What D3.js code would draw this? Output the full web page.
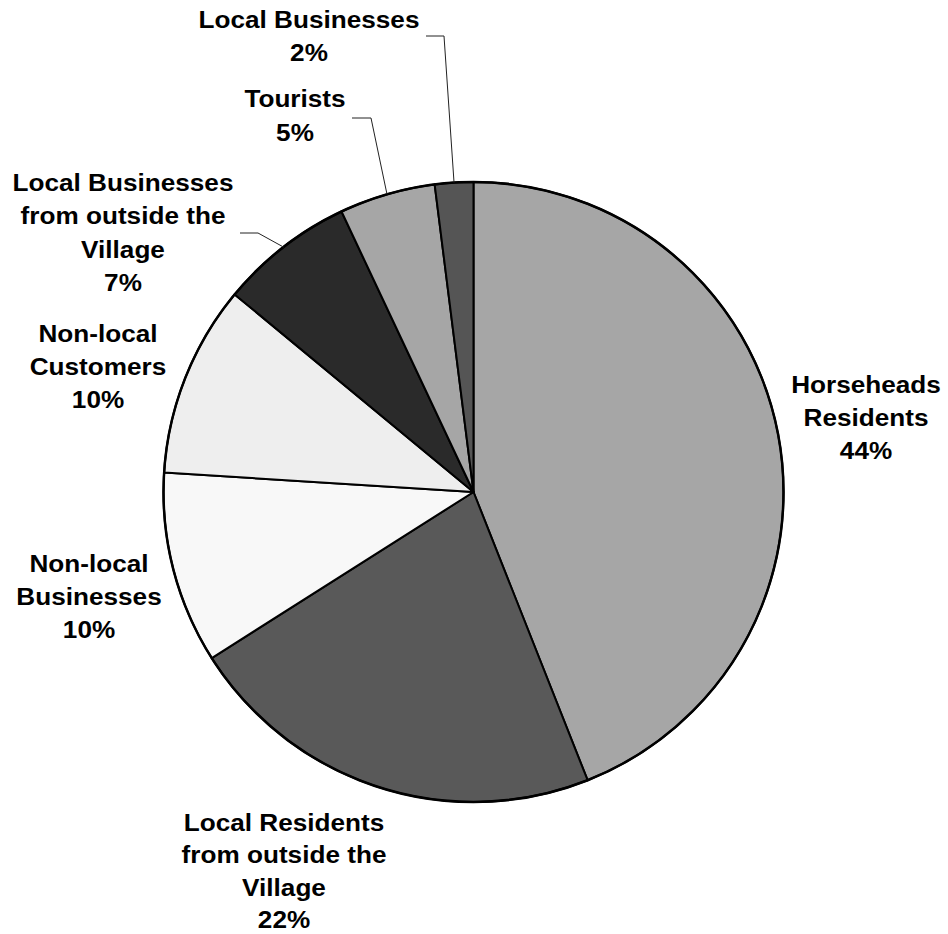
<!DOCTYPE html>
<html>
<head>
<meta charset="utf-8">
<script src="https://cdn.jsdelivr.net/npm/d3@7"></script>
<style>
  html, body { margin: 0; padding: 0; background: #fff; }
  svg { display: block; }
</style>
</head>
<body>
<svg id="chart" width="948" height="934"></svg>
<script>
// Customer groups, clockwise from 12 o'clock
const categories = [
  "Horseheads Residents",
  "Local Residents from outside the Village",
  "Non-local Businesses",
  "Non-local Customers",
  "Local Businesses from outside the Village",
  "Tourists",
  "Local Businesses"
];
const shares = [44, 22, 10, 10, 7, 5, 2];

// Label lines as wrapped in the chart
const labelLines = [
  ["Horseheads", "Residents"],
  ["Local Residents", "from outside the", "Village"],
  ["Non-local", "Businesses"],
  ["Non-local", "Customers"],
  ["Local Businesses", "from outside the", "Village"],
  ["Tourists"],
  ["Local Businesses"]
];

// Slice fills (greyscale)
const fills = ["#a6a6a6", "#595959", "#f8f8f8", "#eeeeee", "#2a2a2a", "#a6a6a6", "#555555"];

// Label placement: centre x, first baseline, line step
const labelPos = [
  { x: 866, y: 393, step: 33 },
  { x: 284, y: 831, step: 32.3 },
  { x: 89,  y: 572, step: 33 },
  { x: 98,  y: 342, step: 33 },
  { x: 123, y: 191, step: 33.5 },
  { x: 295, y: 107, step: 34 },
  { x: 309, y: 28,  step: 33.5 }
];
// Leader lines: horizontal stub start/end (y shared), then to slice edge
const leaders = {
  4: { x0: 240, x1: 258, y: 233 },
  5: { x0: 352, x1: 371, y: 118 },
  6: { x0: 426, x1: 444, y: 36 }
};

const cx = 473.5, cy = 492, R = 310;
const svg = d3.select("#chart");
const g = svg.append("g").attr("transform", `translate(${cx},${cy})`);

const data = categories.map((c, i) => ({ name: c, value: shares[i], i }));
const pie = d3.pie().sort(null).value(d => d.value).startAngle(0).endAngle(2 * Math.PI);
const arcs = pie(data);
const arc = d3.arc().innerRadius(0).outerRadius(R);

g.selectAll("path.slice")
  .data(arcs)
  .join("path")
  .attr("class", "slice")
  .attr("d", arc)
  .attr("fill", d => fills[d.data.i])
  .attr("stroke", "#000")
  .attr("stroke-width", 2)
  .attr("stroke-linejoin", "round");

g.append("circle")
  .attr("r", R)
  .attr("fill", "none")
  .attr("stroke", "#000")
  .attr("stroke-width", 2.5);

// Leader lines
arcs.forEach(a => {
  const L = leaders[a.data.i];
  if (!L) return;
  const mid = (a.startAngle + a.endAngle) / 2;
  const ex = cx + R * Math.sin(mid);
  const ey = cy - R * Math.cos(mid);
  svg.append("polyline")
    .attr("points", `${L.x0},${L.y} ${L.x1},${L.y} ${ex},${ey}`)
    .attr("fill", "none")
    .attr("stroke", "#222")
    .attr("stroke-width", 1);
});

// Labels
const fmt = d3.format(".0f");
arcs.forEach(a => {
  const i = a.data.i;
  const p = labelPos[i];
  const lines = labelLines[i].concat([fmt(a.data.value) + "%"]);
  const t = svg.append("g")
    .attr("transform", `translate(${p.x},${p.y}) scale(1.09,1)`)
    .append("text")
    .attr("text-anchor", "middle")
    .attr("font-family", "'Liberation Sans', Arial, sans-serif")
    .attr("font-weight", "bold")
    .attr("font-size", 24)
    .attr("fill", "#000");
  lines.forEach((ln, k) => {
    t.append("tspan").attr("x", 0).attr("y", k * p.step).text(ln);
  });
});
</script>
</body>
</html>
